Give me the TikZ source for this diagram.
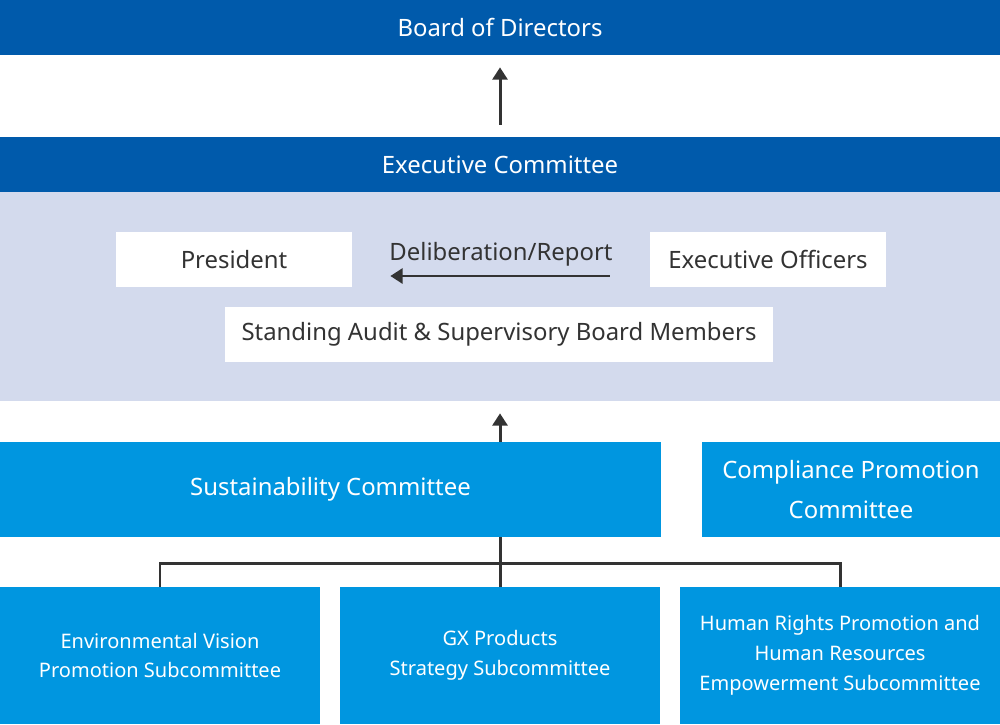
\documentclass[tikz,border=0pt]{standalone}
\usepackage{fontspec}
\setmainfont{Noto Sans}
\usetikzlibrary{arrows.meta}

\definecolor{darkblue}{HTML}{005AAB}
\definecolor{brightblue}{HTML}{0096E0}
\definecolor{panelblue}{HTML}{D3DAED}
\definecolor{inkgray}{HTML}{333333}

\tikzset{
  bar/.style={fill=darkblue, text=white, minimum width=20cm, minimum height=1.1cm, inner sep=0pt, font=\fontsize{13.6}{16}\selectfont},
  whitebox/.style={fill=white, text=inkgray, minimum height=1.1cm, inner sep=0pt, font=\fontsize{13.6}{16}\selectfont},
  committee/.style={fill=brightblue, text=white, minimum height=1.9cm, inner sep=0pt, align=center, font=\fontsize{13.6}{23.2}\selectfont},
  subbox/.style={fill=brightblue, text=white, minimum width=6.4cm, minimum height=2.74cm, inner sep=0pt, align=center, font=\fontsize{11.4}{17}\selectfont},
  link/.style={draw=inkgray, line width=1.7pt},
  flow/.style={link, -{Triangle[width=8.5pt,length=7pt]}}
}

\begin{document}
\begin{tikzpicture}[x=0.02cm, y=-0.02cm]
\useasboundingbox (0,0) rectangle (1000,724);
% top of the chart
\node[bar] (board) at (500,27.5) {Board of Directors};
\node[bar] (exec) at (500,164.5) {Executive Committee};
\node[fill=panelblue, minimum width=20cm, minimum height=4.18cm, inner sep=0pt] (panel) at (500,296.5) {};
\draw[flow, shorten <=0.24cm, shorten >=0.24cm] (exec.north) -- (board.south);
% members of the executive committee
\node[whitebox, minimum width=4.72cm] (president) at (234,259.5) {President};
\node[whitebox, minimum width=4.72cm] (officers) at (768,259.5) {Executive Officers};
\node[whitebox, minimum width=10.96cm] (audit) at (499,334.5) {Standing Audit \& Supervisory Board Members};
\draw[flow, shorten <=0.8cm, shorten >=0.76cm] ([yshift=-0.33cm]officers.west) -- ([yshift=-0.33cm]president.east)
  node[midway, above=0.04cm, text=inkgray, font=\fontsize{13.6}{16}\selectfont] (report) {Deliberation/Report};
% committees
\node[committee, minimum width=13.22cm] (sust) at (330.5,489.5) {Sustainability Committee};
\node[committee, minimum width=5.96cm] (compliance) at (851,489.5) {Compliance Promotion\\Committee};
\draw[flow, shorten >=0.24cm] (sust.north -| panel.south) -- (panel.south);
% subcommittees
\node[subbox] (env) at (160,655.5) {Environmental Vision\\Promotion Subcommittee};
\node[subbox] (gx) at (500,655.5) {GX Products\\Strategy Subcommittee};
\node[subbox] (hr) at (840,655.5) {Human Rights Promotion and\\Human Resources\\Empowerment Subcommittee};
\coordinate (bus) at (500,563);
\draw[link] (sust.south -| gx.north) -- (gx.north);
\draw[link] (env.north) |- (bus) -| (hr.north);
\end{tikzpicture}
\end{document}
